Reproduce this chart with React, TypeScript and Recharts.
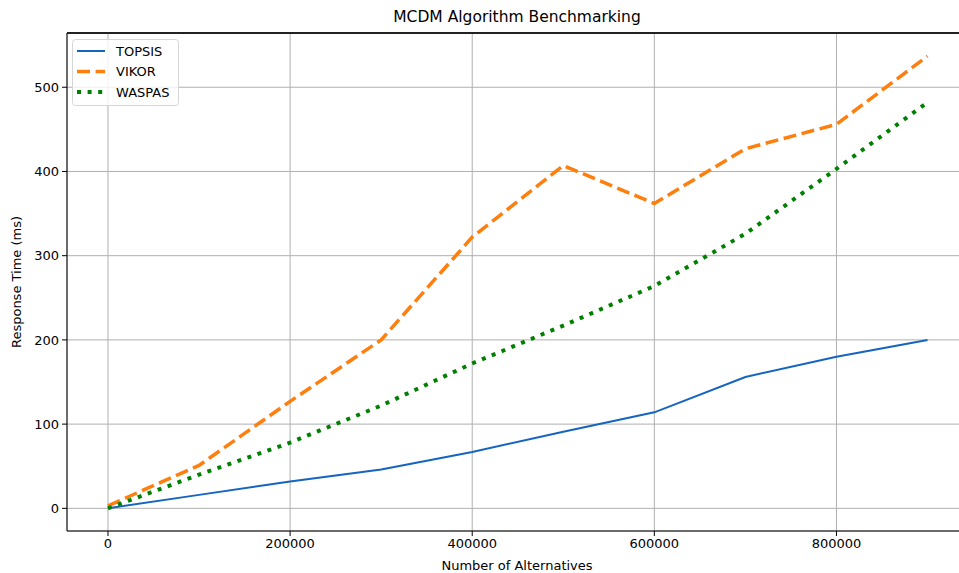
import React from "react";
import {LineChart, Line, XAxis, YAxis, CartesianGrid, Customized} from "recharts";

const alternatives = [0, 100000, 200000, 300000, 400000, 500000, 600000, 700000, 800000, 900000];
const topsis = [0, 16, 32, 46, 67, 91, 114, 156, 180, 200];
const vikor = [3, 51, 127, 200, 322, 407, 362, 427, 456, 537];
const waspas = [0, 40, 78, 122, 172, 217, 264, 326, 403, 482];

const xTicks = [0, 200000, 400000, 600000, 800000];
const yTicks = [0, 100, 200, 300, 400, 500];
const yDomain = [-26.9, 564.4];

const title = "MCDM Algorithm Benchmarking";
const xLabel = "Number of Alternatives";
const yLabel = "Response Time (ms)";

const series = [
    {key: "TOPSIS", color: "#1565c0", width: 2, dash: undefined as string | undefined},
    {key: "VIKOR", color: "#ff7f0e", width: 3.5, dash: "13 5.6"},
    {key: "WASPAS", color: "#008000", width: 4, dash: "4 6.6"},
];

const data = alternatives.map((n, i) => ({n, TOPSIS: topsis[i], VIKOR: vikor[i], WASPAS: waspas[i]}));

const FONT = "'DejaVu Sans', sans-serif";

// titles + legend box
const Overlay = () => (
    <g fontFamily={FONT} fill="#000">
        <text x={517} y={17} textAnchor="middle" dominantBaseline="central" fontSize={15.5}>{title}</text>
        <text x={517} y={565} textAnchor="middle" dominantBaseline="central" fontSize={13}>{xLabel}</text>
        <text x={16} y={282} textAnchor="middle" dominantBaseline="central" fontSize={13}
              transform="rotate(-90 16 282)">{yLabel}</text>
        <rect x={72.5} y={39.5} width={106} height={66} rx={3} fill="#fff" fillOpacity={0.8} stroke="#d6d6d6"/>
        {series.map((s, i) => (
            <g key={s.key}>
                <line x1={77} x2={105} y1={51 + i * 20.5} y2={51 + i * 20.5} stroke={s.color}
                      strokeWidth={s.width} strokeDasharray={s.dash}/>
                <text x={116} y={51 + i * 20.5} dominantBaseline="central" fontSize={13}>{s.key}</text>
            </g>
        ))}
    </g>
);

export default () => {
    return (
        <div style={{position: "absolute", left: 0, top: 0, width: 959, height: 573, overflow: "hidden", background: "#fff"}}>
            <LineChart width={980} height={573} data={data}
                       margin={{top: 33, right: 11.5, left: 0, bottom: 0}}>
                <CartesianGrid stroke="#b0b0b0" strokeWidth={1} />
                <XAxis dataKey="n" type="number" domain={[-45000, 945000]} ticks={xTicks}
                       allowDataOverflow height={42} tickSize={5} tickMargin={3}
                       stroke="#000" tick={{fill: "#000", fontSize: 13, fontFamily: FONT}}/>
                <YAxis type="number" domain={yDomain} ticks={yTicks} allowDataOverflow
                       width={67} tickSize={5} tickMargin={3} stroke="#000"
                       tick={{fill: "#000", fontSize: 13, fontFamily: FONT}}/>
                {series.map(s => (
                    <Line key={s.key} type="linear" dataKey={s.key} stroke={s.color} strokeWidth={s.width}
                          strokeDasharray={s.dash} dot={false} activeDot={false} isAnimationActive={false}/>
                ))}
                <Customized component={<Overlay/>}/>
            </LineChart>
            {/* top spine of the frame */}
            <div style={{position: "absolute", left: 67, top: 32, width: 902, height: 1.5, background: "#222"}}/>
        </div>
    );
};
